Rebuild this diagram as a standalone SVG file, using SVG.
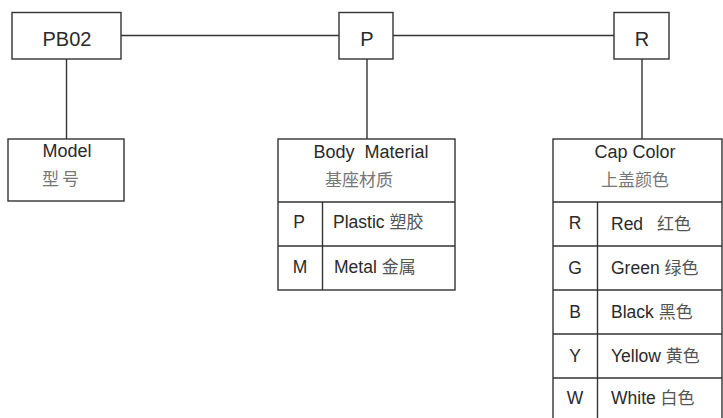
<svg xmlns="http://www.w3.org/2000/svg" width="723" height="418" viewBox="0 0 723 418">
<style>
.box{fill:#fff;stroke:#333;stroke-width:1.4}
.ln{fill:none;stroke:#333;stroke-width:1.4}
.t{font-family:"Liberation Sans",Arial,"Noto Sans CJK SC",sans-serif;fill:#2a2a2a}
.big{font-size:20px}
.hd{font-size:18px}
.row{font-size:17.5px}
.cn{font-family:"Noto Sans CJK SC","Liberation Sans",sans-serif;fill:#777;font-size:17px}
.cnr{font-family:"Noto Sans CJK SC","Liberation Sans",sans-serif;fill:#555;font-size:17px}
</style>
<rect width="723" height="418" fill="#fff"/>
<g id="connectors">
<line class="ln" x1="121" y1="35.5" x2="339" y2="35.5"/>
<line class="ln" x1="393" y1="35.5" x2="614" y2="35.5"/>
<line class="ln" x1="66.5" y1="59" x2="66.5" y2="139"/>
<line class="ln" x1="367" y1="59" x2="367" y2="139"/>
<line class="ln" x1="642" y1="59" x2="642" y2="139"/>
</g>
<g id="node-pb02">
<rect class="box" x="12" y="12.5" width="109" height="46.5"/>
<text class="t big" x="67" y="46" text-anchor="middle">PB02</text>
</g>
<g id="node-p">
<rect class="box" x="339" y="12.5" width="54" height="46.5"/>
<text class="t big" x="367" y="46" text-anchor="middle">P</text>
</g>
<g id="node-r">
<rect class="box" x="614" y="12.5" width="55" height="46.5"/>
<text class="t big" x="642" y="46" text-anchor="middle">R</text>
</g>
<g id="node-model">
<rect class="box" x="8" y="139" width="116" height="62"/>
<text class="t hd" x="67" y="157" text-anchor="middle">Model</text>
<text class="cn" x="62" y="185" text-anchor="middle" letter-spacing="3">型号</text>
</g>
<g id="node-body-material">
<rect class="box" x="278" y="139" width="177" height="151"/>
<line class="ln" x1="278" y1="202" x2="455" y2="202"/>
<line class="ln" x1="278" y1="246" x2="455" y2="246"/>
<line class="ln" x1="322.5" y1="202" x2="322.5" y2="290"/>
<text class="t hd" x="371" y="158" text-anchor="middle" xml:space="preserve">Body  Material</text>
<text class="cn" x="359" y="186" text-anchor="middle">基座材质</text>
<text class="t row" x="299" y="228" text-anchor="middle">P</text>
<text class="t row" x="333" y="228">Plastic <tspan class="cnr">塑胶</tspan></text>
<text class="t row" x="300" y="273" text-anchor="middle">M</text>
<text class="t row" x="334" y="273">Metal <tspan class="cnr">金属</tspan></text>
</g>
<g id="node-cap-color">
<rect class="box" x="553" y="139" width="169" height="290"/>
<line class="ln" x1="553" y1="202" x2="722" y2="202"/>
<line class="ln" x1="553" y1="246" x2="722" y2="246"/>
<line class="ln" x1="553" y1="290" x2="722" y2="290"/>
<line class="ln" x1="553" y1="334" x2="722" y2="334"/>
<line class="ln" x1="553" y1="378" x2="722" y2="378"/>
<line class="ln" x1="597.5" y1="202" x2="597.5" y2="418"/>
<text class="t hd" x="635" y="158" text-anchor="middle">Cap Color</text>
<text class="cn" x="635" y="186" text-anchor="middle">上盖颜色</text>
<text class="t row" x="575" y="229" text-anchor="middle">R</text>
<text class="t row" x="611" y="230">Red<tspan class="cnr" x="657">红色</tspan></text>
<text class="t row" x="575" y="274" text-anchor="middle">G</text>
<text class="t row" x="611" y="274">Green <tspan class="cnr">绿色</tspan></text>
<text class="t row" x="575" y="318" text-anchor="middle">B</text>
<text class="t row" x="611" y="318">Black <tspan class="cnr">黑色</tspan></text>
<text class="t row" x="575" y="362" text-anchor="middle">Y</text>
<text class="t row" x="611" y="362">Yellow <tspan class="cnr">黄色</tspan></text>
<text class="t row" x="575" y="404" text-anchor="middle">W</text>
<text class="t row" x="611" y="404">White <tspan class="cnr">白色</tspan></text>
</g>
</svg>
